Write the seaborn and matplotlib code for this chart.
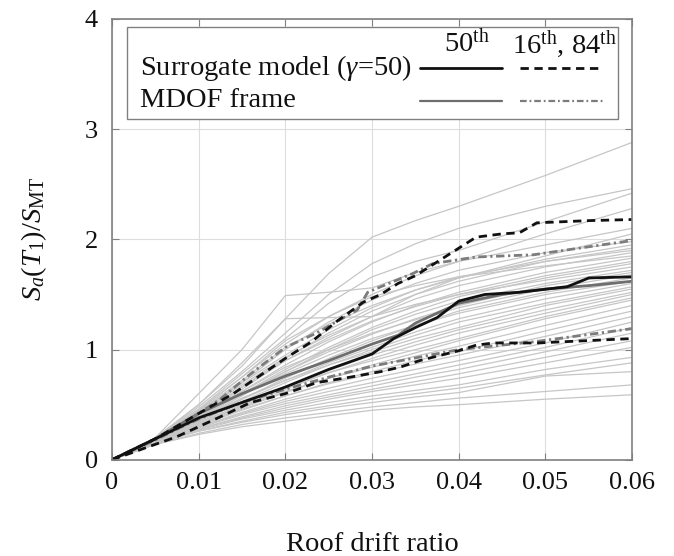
# IDA curves: surrogate model vs MDOF frame
import numpy as np
import pandas as pd
import matplotlib as mpl
import matplotlib.pyplot as plt
import seaborn as sns
from matplotlib.lines import Line2D
from matplotlib.patches import Rectangle

sns.set_style('ticks')
mpl.rcParams['font.family'] = ['Liberation Serif', 'DejaVu Serif']
mpl.rcParams['mathtext.fontset'] = 'custom'
mpl.rcParams['mathtext.rm'] = 'Liberation Serif'
mpl.rcParams['mathtext.it'] = 'Liberation Serif:italic'
mpl.rcParams['axes.unicode_minus'] = False

# ---- data ----
drift_grid = [0, 0.005, 0.01, 0.015, 0.02, 0.025, 0.03, 0.035, 0.04, 0.05, 0.06]

# individual ground motion IDA curves (Sa at each drift of drift_grid)
record_sa = [
    [0, .20, .50, .88, 1.28, 1.69, 2.02, 2.17, 2.30, 2.58, 2.88],
    [0, .19, .48, .80, 1.15, 1.50, 1.78, 1.96, 2.10, 2.30, 2.46],
    [0, .19, .46, .78, 1.10, 1.42, 1.66, 1.80, 1.90, 2.16, 2.42],
    [0, .20, .60, 1.00, 1.49, 1.52, 1.56, 1.70, 1.80, 2.05, 2.28],
    [0, .18, .45, .75, 1.05, 1.30, 1.50, 1.67, 1.80, 1.95, 2.10],
    [0, .19, .50, .85, 1.28, 1.29, 1.30, 1.50, 1.65, 1.85, 2.05],
    [0, .18, .42, .70, 1.00, 1.25, 1.45, 1.60, 1.72, 1.88, 1.98],
    [0, .18, .44, .72, 1.02, 1.23, 1.40, 1.54, 1.65, 1.82, 1.95],
    [0, .18, .40, .66, .92, 1.15, 1.35, 1.50, 1.62, 1.80, 1.92],
    [0, .18, .43, .70, .95, 1.18, 1.38, 1.54, 1.66, 1.80, 1.90],
    [0, .17, .40, .64, .90, 1.11, 1.30, 1.46, 1.58, 1.75, 1.88],
    [0, .18, .45, .75, 1.08, 1.30, 1.48, 1.58, 1.66, 1.76, 1.85],
    [0, .17, .39, .62, .86, 1.07, 1.25, 1.40, 1.52, 1.70, 1.83],
    [0, .18, .41, .66, .90, 1.09, 1.26, 1.39, 1.50, 1.67, 1.80],
    [0, .17, .38, .60, .82, 1.02, 1.20, 1.35, 1.48, 1.65, 1.78],
    [0, .18, .42, .68, .93, 1.13, 1.30, 1.41, 1.50, 1.63, 1.75],
    [0, .17, .37, .58, .80, 1.00, 1.18, 1.32, 1.44, 1.60, 1.72],
    [0, .17, .38, .60, .80, .98, 1.14, 1.28, 1.40, 1.58, 1.70],
    [0, .18, .40, .62, .84, 1.00, 1.15, 1.27, 1.38, 1.55, 1.68],
    [0, .17, .36, .55, .74, .92, 1.08, 1.22, 1.35, 1.52, 1.65],
    [0, .18, .39, .60, .78, .95, 1.10, 1.22, 1.33, 1.50, 1.62],
    [0, .17, .36, .55, .72, .88, 1.02, 1.16, 1.28, 1.46, 1.60],
    [0, .17, .35, .53, .70, .86, 1.00, 1.13, 1.25, 1.42, 1.57],
    [0, .17, .37, .56, .72, .86, .98, 1.10, 1.20, 1.40, 1.55],
    [0, .17, .34, .50, .66, .81, .95, 1.07, 1.18, 1.36, 1.52],
    [0, .16, .33, .49, .64, .79, .92, 1.04, 1.15, 1.33, 1.50],
    [0, .17, .35, .52, .66, .79, .90, 1.00, 1.10, 1.30, 1.47],
    [0, .16, .32, .47, .61, .74, .86, .97, 1.08, 1.28, 1.45],
    [0, .16, .33, .48, .62, .74, .84, .94, 1.03, 1.22, 1.40],
    [0, .16, .31, .45, .58, .70, .80, .90, .98, 1.17, 1.35],
    [0, .16, .32, .46, .58, .69, .78, .87, .95, 1.12, 1.30],
    [0, .16, .30, .43, .55, .65, .74, .82, .90, 1.06, 1.25],
    [0, .16, .30, .42, .53, .62, .70, .78, .86, 1.02, 1.20],
    [0, .16, .29, .41, .51, .59, .67, .75, .82, .98, 1.15],
    [0, .15, .28, .39, .49, .57, .64, .71, .78, .93, 1.08],
    [0, .15, .28, .38, .47, .55, .62, .68, .74, .88, 1.02],
    [0, .15, .27, .37, .45, .52, .58, .63, .68, .82, .93],
    [0, .15, .26, .35, .43, .49, .55, .60, .65, .77, .88],
    [0, .15, .26, .34, .41, .47, .52, .57, .61, .76, .80],
    [0, .14, .24, .32, .38, .43, .48, .52, .56, .62, .68],
    [0, .14, .23, .30, .35, .40, .45, .48, .50, .55, .59],
]

# surrogate model (gamma=50) percentiles
sur50_x = [0, .005, .01, .015, .02, .025, .03, .0325, .035, .0375, .04, .043, .047, .0525, .055, .06]
sur50_y = [0, .19, .38, .52, .66, .82, .96, 1.10, 1.20, 1.29, 1.44, 1.50, 1.52, 1.57, 1.65, 1.66]
sur84_x = [0, .005, .01, .014, .017, .02, .023, .026, .029, .031, .033, .035, .037, .04, .042, .045, .047, .049, .055, .06]
sur84_y = [0, .19, .42, .60, .76, .92, 1.07, 1.26, 1.43, 1.50, 1.60, 1.67, 1.77, 1.92, 2.02, 2.05, 2.06, 2.15, 2.17, 2.18]
sur16_x = [0, .0075, .0125, .016, .02, .0236, .0275, .031, .0332, .0355, .04, .042, .044, .049, .06]
sur16_y = [0, .21, .39, .52, .60, .70, .75, .80, .84, .90, .99, 1.04, 1.06, 1.06, 1.10]

# MDOF frame percentiles
mdof50_x = [0, .005, .01, .015, .02, .025, .03, .033, .035, .04, .045, .05, .055, .06]
mdof50_y = [0, .19, .42, .60, .76, .90, 1.05, 1.13, 1.24, 1.42, 1.50, 1.55, 1.58, 1.62]
mdof84_x = [0, .005, .0075, .01, .0125, .016, .02, .0236, .0283, .0295, .031, .0347, .037, .042, .0486, .06]
mdof84_y = [0, .18, .28, .42, .55, .78, 1.02, 1.15, 1.36, 1.52, 1.57, 1.69, 1.78, 1.84, 1.86, 1.99]
mdof16_x = [0, .005, .01, .015, .02, .025, .03, .0347, .04, .0486, .06]
mdof16_y = [0, .19, .37, .52, .64, .75, .85, .92, 1.00, 1.07, 1.19]

x_ticks = [0, 0.01, 0.02, 0.03, 0.04, 0.05, 0.06]
x_tick_labels = ['0', '0.01', '0.02', '0.03', '0.04', '0.05', '0.06']
y_ticks = [0, 1, 2, 3, 4]

# ---- plotting ----
rows = []
for i, ys in enumerate(record_sa):
    for x, y in zip(drift_grid, ys):
        rows.append((i, x, y))
df = pd.DataFrame(rows, columns=['record', 'drift', 'sa'])

fig, ax = plt.subplots(figsize=(6.74, 5.56), dpi=100)
fig.subplots_adjust(left=0.166, right=0.938, bottom=0.173, top=0.966)

sns.lineplot(data=df, x='drift', y='sa', units='record', estimator=None,
             color='#c6c6c6', lw=0.9, ax=ax, legend=False)

blk = '#111111'
gry = '#6e6e6e'
gry2 = '#7c7c7c'
dash = (0, (3, 2))
dashdot = (0, (3, 1.3, 0.8, 1.3))

sns.lineplot(x=mdof50_x, y=mdof50_y, color=gry, lw=2.0, ax=ax, estimator=None, sort=False)
sns.lineplot(x=mdof84_x, y=mdof84_y, color=gry2, lw=2.0, linestyle=dashdot, ax=ax, estimator=None, sort=False)
sns.lineplot(x=mdof16_x, y=mdof16_y, color=gry2, lw=2.0, linestyle=dashdot, ax=ax, estimator=None, sort=False)
sns.lineplot(x=sur50_x, y=sur50_y, color=blk, lw=2.0, ax=ax, estimator=None, sort=False)
sns.lineplot(x=sur84_x, y=sur84_y, color=blk, lw=2.0, linestyle=dash, ax=ax, estimator=None, sort=False)
sns.lineplot(x=sur16_x, y=sur16_y, color=blk, lw=2.0, linestyle=dash, ax=ax, estimator=None, sort=False)

ax.set_xlim(0, 0.06)
ax.set_ylim(0, 4)
ax.set_xticks(x_ticks)
ax.set_xticklabels(x_tick_labels)
ax.set_yticks(y_ticks)
ax.grid(True, color='#dddddd', lw=0.8)
ax.set_axisbelow(True)
for s in ax.spines.values():
    s.set_visible(True)
    s.set_color('#808080')
    s.set_linewidth(1.2)
ax.tick_params(direction='in', top=True, right=True, length=5, color='#808080',
               labelsize=19, labelcolor='#111111')
ax.tick_params(axis='x', pad=9)
ax.tick_params(axis='y', pad=10)

ax.set_xlabel('Roof drift ratio', fontsize=20.5, labelpad=27, color='#111111')
ax.set_ylabel(r'$S_a(T_1)/S_{\mathrm{MT}}$', fontsize=20.5, labelpad=26, color='#111111')

# legend box drawn by hand (two percentile columns)
ax.add_patch(Rectangle((0.029, 0.774), 0.944, 0.208, transform=ax.transAxes,
                       facecolor='white', edgecolor='#808080', lw=1.0, zorder=5))
txt = dict(transform=ax.transAxes, fontsize=20.5, va='center', zorder=6, color='#111111')
ax.text(0.054, 0.889, r'Surrogate model ($\gamma$=50)', ha='left', **txt)
ax.text(0.054, 0.814, 'MDOF frame', ha='left', **txt)
ax.text(0.683, 0.945, r'50$^{\mathrm{th}}$', ha='center', **txt)
ax.text(0.870, 0.945, r'16$^{\mathrm{th}}$, 84$^{\mathrm{th}}$', ha='center', **txt)
for (x0, x1), y, c, ls, lw in [((0.592, 0.750), 0.889, blk, '-', 2.0),
                               ((0.785, 0.944), 0.889, blk, dash, 2.0),
                               ((0.592, 0.750), 0.814, gry, '-', 1.6),
                               ((0.785, 0.944), 0.814, gry2, dashdot, 1.6)]:
    ax.add_line(Line2D([x0, x1], [y, y], transform=ax.transAxes, color=c,
                       ls=ls, lw=lw, zorder=6))

fig.savefig('out.png', dpi=100)
